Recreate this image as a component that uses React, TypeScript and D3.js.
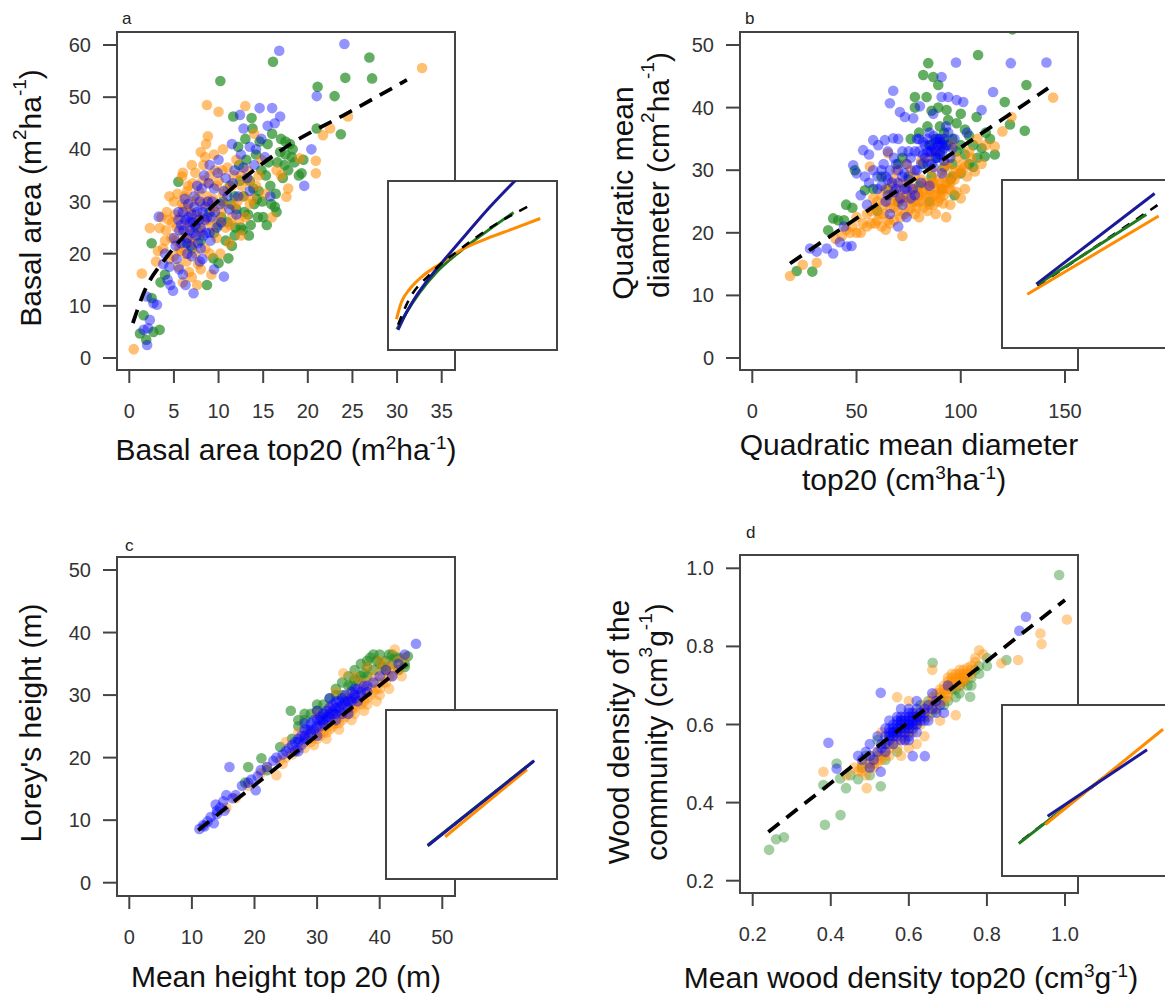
import React from "react";
import * as d3 from "d3";

type Pt = [number, number];
type Part = string | [string];

// ---- panel a: basal area ----
const aTicksX = [0, 5, 10, 15, 20, 25, 30, 35];
const aTicksY = [0, 10, 20, 30, 40, 50, 60];
const aGreen: Pt[] = [
  [1.2, 4.7], [1.9, 3.5], [2.7, 5.0], [3.4, 5.4], [1.6, 8.2], [2.5, 11.5], [3.5, 14.5], [2.5, 22.0], [4.0, 16],
  [5.5, 33.8], [6.5, 22], [7.5, 25], [8.7, 14.0], [9.4, 19.1], [10.0, 18.2], [11.1, 19.1], [9.0, 28], [10.0, 25.5],
  [10.5, 30], [10.2, 53.1], [11.0, 26], [11.3, 33], [11.65, 46.3], [11.8, 23.5], [12.0, 28.5], [12.3, 37], [12.5, 25],
  [12.8, 31], [13.0, 42], [13.3, 27.5], [13.5, 34], [13.7, 46], [13.8, 44], [14.0, 29.5], [14.2, 39], [14.5, 32],
  [14.8, 36], [15.0, 27], [15.4, 25.5], [15.5, 41], [15.8, 33], [16.1, 56.8], [16.3, 29], [16.5, 28], [16.6, 37.5],
  [17.0, 42], [17.2, 34.5], [17.5, 39], [17.8, 36], [18.0, 41], [18.3, 40], [18.5, 37.5], [19.0, 35], [19.3, 35.4],
  [19.5, 38], [21.0, 44], [21.1, 52.0], [23.0, 50.2], [23.7, 42.9], [24.2, 53.7], [26.9, 57.6], [27.2, 53.6],
  [12.7, 24.5], [11.5, 21.5], [14.3, 30.5],
  [9.5, 24], [10.3, 27], [10.8, 22.5], [11.4, 29.5], [11.9, 25], [12.4, 34], [12.9, 28], [13.4, 23.5], [13.9, 32.5],
  [14.4, 27], [14.9, 30], [15.3, 35], [15.9, 29.5], [16.4, 31.5], [16.9, 39.5], [17.4, 37], [18.2, 38.5], [13.1, 38],
  [14.6, 41.5], [12.2, 40.5], [16.0, 43], [17.5, 41.5], [11.8, 31], [15.6, 37.5], [8.0, 22.5], [7.0, 21], [13.6, 25.5],
];
const aOrange: Pt[] = [
  [0.5, 1.7], [1.4, 16.2], [2.3, 24.9], [3.4, 24.9], [3.0, 18.5], [3.8, 21], [4.1, 24.5], [4.5, 19], [4.2, 28],
  [4.8, 26], [5.0, 30], [5.2, 22.5], [5.5, 17.5], [5.9, 34.8], [5.7, 27], [6.0, 24], [6.2, 31], [6.3, 20], [6.5, 28.5],
  [6.6, 33], [6.8, 25], [7.0, 15.5], [7.0, 30], [7.2, 22], [7.4, 35.5], [7.5, 27.5], [7.7, 18], [7.8, 32], [8.0, 24.5],
  [8.2, 29.5], [8.3, 37], [8.5, 38.5], [8.5, 21], [8.6, 41], [8.7, 48.5], [8.8, 42.5], [8.9, 33.5], [9.0, 26.5],
  [9.2, 16], [9.4, 30.5], [9.6, 36], [9.8, 23], [10.0, 47.2], [10.0, 34], [10.3, 28], [10.5, 31.5], [10.8, 25],
  [11.0, 36.5], [11.2, 22], [11.5, 33], [11.8, 29], [12.0, 38], [12.3, 26.5], [12.5, 35], [12.8, 31], [13.0, 48.3],
  [13.2, 36], [13.5, 29.5], [14.0, 43], [14.2, 33], [14.8, 38], [15.2, 31.5], [16.0, 27], [16.5, 36], [17.0, 35],
  [17.6, 30.9], [17.8, 32.5], [19.1, 38.3], [20.9, 37.8], [20.9, 35.4], [21.7, 42.7], [22.5, 44], [24.5, 46.3],
  [32.8, 55.6], [5.3, 25], [6.1, 29], [6.9, 23], [7.3, 26], [8.1, 27], [8.8, 30], [9.3, 28.5], [5.8, 20.5],
  [6.4, 18.5], [10.2, 20], [11.5, 27], [4.0, 22.5], [3.2, 20.5], [7.6, 14], [6.7, 16.5],
  [4.4, 26.5], [4.7, 23], [5.1, 27.5], [5.4, 31.5], [5.6, 21], [5.9, 29.5], [6.2, 26], [6.5, 32], [6.7, 22.5],
  [6.9, 28], [7.1, 33.5], [7.4, 20], [7.6, 30.5], [7.9, 24], [8.2, 34], [8.4, 26], [8.7, 31], [9.0, 35], [9.3, 25],
  [9.5, 29], [9.8, 33], [10.1, 26.5], [10.4, 36], [10.7, 29.5], [11.0, 32.5], [11.3, 25.5], [11.7, 35], [12.1, 30],
  [12.6, 33], [13.0, 27], [13.4, 34], [13.8, 30.5], [14.5, 35], [6.0, 35.5], [7.0, 37], [8.0, 39.5], [9.5, 39],
  [10.5, 40], [5.0, 19.5], [6.0, 14.5], [8.0, 17], [9.0, 20], [3.6, 27], [4.5, 31], [12.5, 23.5],
];
const aBlue: Pt[] = [
  [1.6, 5.4], [2.1, 5.7], [2.3, 7.3], [1.95, 11.8], [2.7, 10.5], [3.1, 10.2], [2.0, 2.5], [3.3, 27.1], [4.6, 14],
  [4.9, 12.9], [4.5, 17.5], [4.0, 20], [5.0, 23], [5.3, 19], [5.5, 28], [5.8, 25.5], [6.0, 16], [6.2, 30.5], [6.4, 22],
  [6.6, 27], [6.8, 24.5], [7.0, 19.5], [7.1, 26], [7.2, 12.4], [7.3, 29], [7.5, 23.5], [7.6, 33], [7.8, 26.5], [8.0, 21],
  [8.2, 28], [8.4, 35], [8.6, 24], [8.8, 30], [9.0, 37], [9.2, 27], [9.5, 17], [9.5, 32.5], [9.8, 25], [10.0, 38],
  [10.2, 29.5], [10.6, 15.6], [10.8, 34.5], [11.0, 31], [11.5, 41], [11.8, 36], [12.0, 27.5], [12.4, 46.6], [12.5, 39],
  [12.8, 44], [13.2, 34.5], [13.5, 40.5], [14.0, 37], [14.6, 47.9], [14.8, 42], [15.2, 38.5], [15.5, 44.5], [16.0, 47.9],
  [16.3, 45], [16.9, 46.3], [15.8, 31], [16.8, 58.9], [19.6, 33.0], [20.4, 40.0], [21.0, 50.2], [24.1, 60.2],
  [6.5, 20], [5.6, 24.5], [7.9, 18.5], [8.5, 26.5], [9.1, 22.5],
  [5.2, 21.5], [5.5, 26.5], [5.8, 22], [6.0, 28], [6.1, 24.5], [6.3, 26.5], [6.5, 23], [6.6, 29.5], [6.8, 26],
  [6.9, 21.5], [7.0, 27.5], [7.2, 24], [7.3, 31], [7.4, 25.5], [7.6, 28], [7.7, 22], [7.9, 30], [8.0, 25], [8.1, 32.5],
  [8.3, 23.5], [8.5, 29], [8.7, 27], [8.9, 33.5], [9.0, 24], [9.3, 30], [9.6, 28], [9.9, 35.5], [10.3, 26], [10.6, 32],
  [11.2, 28.5], [11.6, 33.5], [12.2, 31], [12.8, 36.5], [13.5, 32], [4.3, 15], [5.6, 17], [6.3, 14], [8.2, 19],
  [3.8, 18], [14.2, 40],
];
const aFit: Pt[] = [[0.4, 6.7], [1.6, 12.4], [4.2, 19.4], [6.4, 23.9], [11.3, 32.2], [17.6, 40.5], [24.4, 46.9], [31.1, 53.3]];
// inset curves, in inset percent units
const aInBlue: Pt[] = [[5.9, 11.9], [10.9, 22.2], [16.8, 32.1], [24.8, 43.1], [34.7, 55.0], [46.5, 68.8], [60.4, 84.7], [78, 103]];
const aInGreen: Pt[] = [[5.3, 12.3], [10.9, 22.2], [18.8, 34.1], [28.7, 46.0], [42.6, 58.3], [58.4, 70.2], [74.3, 81.3]];
const aInOrange: Pt[] = [[5.0, 18.3], [7.9, 28.2], [12.9, 36.1], [20.8, 44.0], [30.7, 50.9], [42.6, 58.9], [58.4, 65.9], [74.3, 71.8], [90.1, 77.8]];
const aInFit: Pt[] = [[6, 15], [12, 29], [25, 45], [42.6, 59.5], [60, 72], [83, 85]];

// ---- panel b: quadratic mean diameter ----
const bTicksX = [0, 50, 100, 150];
const bTicksY = [0, 10, 20, 30, 40, 50];
const bGreen: Pt[] = [
  [21.3, 13.9], [28.8, 13.8], [36.4, 20.4], [38.8, 22.3], [41.2, 22.0], [45, 24.5], [49.2, 30.0], [54, 26.8], [60, 23.5],
  [65, 27], [70, 25], [72, 32], [75, 29], [78, 41.7], [78, 40], [80, 27.5], [82, 45.2], [82, 31], [83.6, 41.7],
  [84.4, 47.1], [85, 34], [86, 29], [86.8, 44.9], [88, 32], [89.2, 43.6], [89.2, 40], [90, 37], [91, 27], [92, 30.5],
  [93.2, 39.6], [94, 34], [95, 28.5], [96, 31], [98, 33], [100, 29.5], [102, 36.5], [104, 31], [106, 34], [107.6, 38.5],
  [108.3, 48.4], [110, 33.5], [111.5, 32.2], [114, 35], [116.3, 32.5], [121.1, 40.9], [123.6, 37.3], [124.8, 52.5],
  [130.7, 36.3], [131.5, 43.6], [85, 25], [97, 26],
  [88, 35], [90, 33], [92, 36], [94, 38], [96, 35], [98, 37.5], [100, 34], [102, 32.5], [104, 35.5], [106, 30.5],
  [108, 32], [112, 36], [100, 39], [96, 29], [92, 34.5], [84, 37], [86, 39.5], [80, 36], [76, 35], [70, 31], [62, 29],
  [58, 27], [48, 24], [44, 22],
];
const bOrange: Pt[] = [
  [18.1, 13.1], [24.2, 14.9], [30.9, 15.2], [40, 19], [45, 20.5], [48, 21], [50, 22.5], [52, 20], [55, 23], [56.4, 30.6],
  [57, 21.5], [59, 24], [60, 22], [62, 26], [63, 23], [65, 25], [65.2, 32.7], [66, 21.5], [67, 27.5], [68, 24], [69, 30],
  [70, 26], [71, 22.5], [72, 28], [73, 25], [74, 31], [75, 23.5], [76, 27], [77, 25], [78, 29], [79, 24], [80, 26.5],
  [81, 31.5], [82, 25], [83, 28], [84, 23.5], [85, 26], [86, 30], [86.8, 27.9], [87, 24.5], [88, 33], [89, 27],
  [90, 25.5], [91, 26.5], [91.6, 24.7], [92, 29], [93, 31], [94, 27], [95, 24.5], [96, 34], [97, 28.5], [98, 32],
  [100, 30], [102, 27], [104, 33], [106.8, 29.8], [108, 35], [110, 31], [112, 34], [116.3, 33.8], [120, 36.2],
  [124.3, 38.5], [144.3, 41.6], [72, 19.5], [64, 20.5], [58, 25.5], [80, 22.5], [88, 23], [93, 22.5], [100, 25.5],
  [55, 21], [57, 23.5], [59, 21.5], [60, 25], [61, 23], [62, 21], [63, 24.5], [64, 27], [65, 22], [66, 24], [67, 26],
  [68, 22], [69, 25], [70, 23.5], [71, 27], [72, 25.5], [73, 23], [74, 26], [75, 28], [76, 24], [77, 26.5], [78, 23],
  [79, 27], [80, 25], [81, 28.5], [82, 24], [83, 26], [84, 27.5], [85, 24.5], [86, 28], [87, 26], [88, 28.5], [89, 25],
  [90, 28], [91, 30], [92, 26], [93, 28], [94, 30.5], [95, 27], [96, 29], [98, 26.5], [99, 29.5], [101, 31], [103, 29],
  [105, 32], [50, 20], [53, 21.5], [47, 20], [43, 19.5], [68, 28.5], [76, 30], [84, 32],
  [70, 25], [75, 25.5], [80, 26], [85, 27], [90, 27], [95, 28], [78, 25], [82, 26.5], [88, 26], [92, 27.5], [98, 30],
  [102, 30.5],
];
const bBlue: Pt[] = [
  [27.7, 17.5], [30.9, 17.0], [35.7, 17.5], [38.8, 16.7], [42, 18.5], [45.3, 17.8], [47.6, 17.9], [44, 21], [48.4, 30.8],
  [50, 29.5], [53.2, 33.2], [52, 26], [55, 24.5], [56, 28], [58, 34.8], [60.4, 34], [60, 27], [62, 30], [63.6, 34.8],
  [64, 25], [65, 28.5], [66, 40.7], [67.6, 35.1], [67.6, 42.7], [68, 26.5], [69, 31], [70, 21], [70, 28], [70.8, 39.3],
  [72, 24.5], [73, 29.5], [73.2, 38.5], [74, 27], [75, 33], [76, 25.5], [77.2, 38.3], [78, 30], [79, 35], [80, 33],
  [80.4, 40.2], [81, 28], [82, 32.5], [83, 34], [84, 31], [85, 36], [86, 33], [86.8, 39], [87, 30.5], [88, 34.5],
  [89, 32], [90, 35], [90.8, 41.7], [90.8, 44.9], [91, 29.5], [92, 33.5], [93, 37], [94, 41.7], [95, 32], [97, 35],
  [97.7, 47.2], [98, 41.2], [101.2, 40.9], [103, 36], [110, 39.6], [115.5, 42.5], [124, 47.1], [141.1, 47.2],
  [74, 22.5], [66, 23], [78, 26], [85, 27.5],
  [60, 29], [62, 27.5], [63, 31], [64, 29], [65, 26], [66, 30], [67, 28], [68, 32], [69, 27], [70, 30], [71, 25.5],
  [72, 29], [72, 33], [73, 27], [74, 31], [75, 28.5], [76, 32], [77, 27], [78, 33], [79, 30], [80, 35], [81, 31],
  [82, 34.5], [83, 32], [84, 35], [85, 33], [86, 31], [87, 35.5], [88, 33], [89, 35], [90, 32.5], [91, 34], [92, 31.5],
  [93, 34], [94, 36], [96, 33.5], [70, 35], [65, 33], [58, 30], [56, 32.5], [54, 29],
  [86, 34], [88, 32], [89, 34], [90, 34.5], [91, 33], [87, 33.5], [84, 33], [92, 35],
];
const bFit: Pt[] = [[18.1, 15.1], [141.9, 43.1]];
const bInBlue: Pt[] = [[20.3, 38.0], [90.3, 92.0]];
const bInGreen: Pt[] = [[21.3, 38.0], [85.4, 79.4]];
const bInOrange: Pt[] = [[15.0, 32.0], [92.7, 78.6]];
const bInFit: Pt[] = [[21, 37], [92, 85]];

// ---- panel c: Lorey's height ----
const cTicksX = [0, 10, 20, 30, 40, 50];
const cTicksY = [0, 10, 20, 30, 40, 50];
const cGreen: Pt[] = [
  [18.5, 16], [19, 18.5], [21.1, 19.9], [22, 18], [24.1, 21.7], [25.8, 27.5], [26, 23], [27, 25], [28, 26], [29, 27],
  [30, 27.5], [31, 28.5], [32, 29.5], [33, 31], [34, 32], [35, 33], [35.5, 31.5], [36, 34], [36.5, 32.5], [37, 35],
  [37.5, 33.5], [38, 34.5], [38.5, 36], [39, 34], [39.5, 35.5], [40, 36.5], [40.5, 34.5], [41, 35.5], [41.5, 36.5],
  [42, 35], [42.5, 36], [43, 34], [44, 35], [44.5, 36.2], [34, 30], [31, 27],
  [36, 32.5], [37, 33], [38, 35.5], [39, 36.5], [40, 35], [41, 34], [42, 36.5], [43, 36], [44, 34.5], [38, 33],
  [35, 31.5], [33, 30], [30, 28.5], [28, 27], [27, 26],
];
const cOrange: Pt[] = [
  [15.5, 12], [17, 13.5], [19, 15.5], [21, 17.5], [23.5, 17.2], [24, 19.5], [25, 20], [26, 21], [27, 21.5], [28, 22.5],
  [28.5, 24], [29, 23], [30, 24.5], [30.5, 23.5], [31, 25.5], [31.5, 24], [32, 26], [32.5, 25], [33, 27], [33.5, 25.5],
  [34, 28], [34.2, 33.5], [34.5, 26.5], [35, 29], [35.5, 27.5], [36, 30], [36.5, 28.5], [37, 31], [37.5, 29], [38, 32],
  [38.5, 30], [39, 33], [39.5, 31], [40, 34], [40.5, 32], [41, 35], [41.5, 33], [42, 34.5], [42.4, 37.3], [43, 35.5],
  [44, 36], [30, 27], [33, 30.5], [36, 33], [38, 34.5], [27, 24], [25, 22.5], [22, 18.5],
  [28, 21.5], [29, 22.5], [30, 23], [31, 24], [32, 24.5], [33, 25.5], [34, 26], [35, 27], [36, 28], [37, 28.5],
  [38, 29.5], [39, 30.5], [40, 31], [41, 32], [42, 33], [43, 34], [29.5, 22], [31.5, 23], [33.5, 24.5], [35.5, 26],
  [37.5, 27.5], [39.5, 29], [41.5, 31], [43.5, 33], [32, 28], [35, 30], [37, 32], [40, 35.5], [26, 20.5], [24.5, 19],
  [30.5, 24], [31.5, 25], [32.5, 25.5], [33.5, 26.5], [34.5, 27], [35.5, 28], [36.5, 29], [37.5, 30], [38.5, 31],
  [39.5, 32], [40.5, 33], [41.5, 34], [36, 27], [38, 28.5], [40, 30],
];
const cBlue: Pt[] = [
  [11.2, 8.6], [11.8, 9.2], [12.5, 9.8], [13, 10.5], [13.5, 9.5], [14, 11], [14.5, 12], [15, 13], [15.2, 11.5], [16, 18.5],
  [16.5, 13.5], [18, 15.5], [19, 16], [20.2, 14.8], [20.5, 17], [22, 18.5], [23, 19.5], [24.5, 20.5], [25.5, 21.5],
  [26.5, 22.5], [27, 21], [27.5, 23.5], [28, 24.5], [28.5, 23], [29, 25.5], [29.5, 24.5], [30, 26], [30.5, 25], [31, 27],
  [31.5, 26], [32, 28], [32.5, 27], [33, 29], [33.5, 27.5], [34, 28.5], [34.5, 30], [35, 28], [35.5, 29.5], [36, 31],
  [36.5, 29], [37, 30.5], [38, 31.5], [39, 32], [40, 33], [41, 34], [42, 33], [43, 35], [44, 36.5], [45.8, 38.2],
  [33, 26], [35, 27], [30, 23.5],
  [26, 22], [27, 23], [28, 23.5], [29, 24], [30, 25], [31, 25.5], [32, 26.5], [33, 27], [34, 27], [35, 29], [36, 29.5],
  [37, 30], [38, 30.5], [26.5, 21], [27.5, 22], [28.5, 24.5], [29.5, 26], [30.5, 26.5], [31.5, 27.5], [32.5, 28.5],
  [33.5, 29], [34.5, 28.5], [35.5, 30.5], [36.5, 31], [37.5, 31.5], [28, 25.5], [30, 27.5], [32, 29.5], [25, 21],
  [23.5, 20], [21, 18], [19.5, 16.5], [17, 14], [14, 11.5], [12, 9], [13.8, 12.5], [15.5, 14],
  [30.5, 26], [31.5, 26.5], [32.5, 27.5], [33.5, 28], [34.5, 29], [35.5, 29], [33, 28], [34, 29.5], [32, 27], [31, 26],
  [29, 24.5], [28, 23], [27, 22.5], [36, 30],
];
const cFit: Pt[] = [[11.0, 8.4], [45.1, 35.6]];
const cInBlue: Pt[] = [[24.4, 19.7], [86.7, 70.0]];
const cInGreen: Pt[] = [[24.4, 20.0], [86.0, 69.5]];
const cInOrange: Pt[] = [[34.6, 25.0], [82.4, 64.8]];
const cInFit: Pt[] = [[24.4, 19.8], [86.5, 69.8]];

// ---- panel d: wood density ----
const dTicksX = [0.2, 0.4, 0.6, 0.8, 1.0];
const dTicksY = [0.2, 0.4, 0.6, 0.8, 1.0];
const dGreen: Pt[] = [
  [0.242, 0.279], [0.26, 0.306], [0.28, 0.311], [0.385, 0.343], [0.425, 0.368], [0.381, 0.445], [0.415, 0.50],
  [0.424, 0.462], [0.439, 0.437], [0.47, 0.46], [0.49, 0.52], [0.50, 0.47], [0.52, 0.56], [0.528, 0.442], [0.54, 0.51],
  [0.55, 0.57], [0.57, 0.53], [0.58, 0.61], [0.60, 0.58], [0.62, 0.60], [0.64, 0.62], [0.65, 0.66], [0.661, 0.758],
  [0.67, 0.64], [0.68, 0.67], [0.70, 0.66], [0.71, 0.69], [0.72, 0.67], [0.73, 0.70], [0.74, 0.71], [0.757, 0.671],
  [0.76, 0.72], [0.77, 0.74], [0.78, 0.75], [0.80, 0.77], [0.85, 0.765], [0.985, 0.983], [0.63, 0.65],
  [0.5, 0.5], [0.52, 0.52], [0.55, 0.55], [0.57, 0.58], [0.6, 0.6], [0.66, 0.63], [0.69, 0.65], [0.72, 0.69],
  [0.75, 0.7], [0.78, 0.73], [0.8, 0.75], [0.76, 0.7], [0.73, 0.68], [0.62, 0.62], [0.48, 0.49], [0.45, 0.47],
];
const dOrange: Pt[] = [
  [0.381, 0.479], [0.44, 0.47], [0.46, 0.49], [0.48, 0.50], [0.492, 0.437], [0.50, 0.52], [0.51, 0.49], [0.52, 0.53],
  [0.53, 0.51], [0.54, 0.55], [0.55, 0.52], [0.56, 0.57], [0.57, 0.67], [0.57, 0.54], [0.58, 0.59], [0.59, 0.56],
  [0.60, 0.61], [0.61, 0.58], [0.62, 0.63], [0.62, 0.55], [0.63, 0.60], [0.64, 0.65], [0.65, 0.62], [0.66, 0.67],
  [0.67, 0.64], [0.68, 0.69], [0.69, 0.66], [0.70, 0.71], [0.70, 0.68], [0.71, 0.73], [0.72, 0.70], [0.72, 0.624],
  [0.73, 0.72], [0.74, 0.74], [0.74, 0.71], [0.75, 0.73], [0.76, 0.75], [0.77, 0.77], [0.78, 0.79], [0.79, 0.78],
  [0.837, 0.757], [0.88, 0.765], [0.937, 0.833], [0.94, 0.806], [1.005, 0.869], [0.66, 0.74], [0.6, 0.66], [0.53, 0.58],
  [0.68, 0.61], [0.64, 0.57],
  [0.47, 0.48], [0.49, 0.47], [0.5, 0.5], [0.52, 0.51], [0.54, 0.53], [0.56, 0.55], [0.58, 0.57], [0.6, 0.58],
  [0.62, 0.61], [0.64, 0.63], [0.66, 0.65], [0.68, 0.66], [0.7, 0.69], [0.72, 0.71], [0.73, 0.73], [0.74, 0.72],
  [0.75, 0.745], [0.76, 0.73], [0.71, 0.71], [0.69, 0.7], [0.67, 0.68], [0.65, 0.64], [0.63, 0.62], [0.61, 0.6],
  [0.59, 0.58], [0.57, 0.56], [0.55, 0.54], [0.53, 0.52], [0.51, 0.5], [0.48, 0.49], [0.7, 0.72], [0.73, 0.7],
  [0.77, 0.76], [0.6, 0.54], [0.58, 0.52],
  [0.68, 0.68], [0.69, 0.69], [0.7, 0.7], [0.71, 0.7], [0.72, 0.72], [0.73, 0.71], [0.74, 0.73], [0.75, 0.72],
  [0.72, 0.73], [0.7, 0.67], [0.69, 0.68], [0.71, 0.72], [0.73, 0.74], [0.67, 0.66], [0.66, 0.66], [0.76, 0.74],
  [0.5, 0.49], [0.52, 0.5], [0.54, 0.52], [0.48, 0.48],
];
const dBlue: Pt[] = [
  [0.394, 0.553], [0.415, 0.487], [0.47, 0.52], [0.49, 0.53], [0.50, 0.55], [0.51, 0.51], [0.52, 0.57], [0.528, 0.681],
  [0.528, 0.479], [0.53, 0.55], [0.54, 0.59], [0.55, 0.57], [0.55, 0.61], [0.56, 0.58], [0.56, 0.55], [0.57, 0.60],
  [0.57, 0.62], [0.58, 0.58], [0.58, 0.64], [0.59, 0.60], [0.59, 0.56], [0.60, 0.62], [0.60, 0.59], [0.61, 0.519],
  [0.61, 0.63], [0.62, 0.60], [0.62, 0.66], [0.63, 0.62], [0.64, 0.64], [0.641, 0.519], [0.65, 0.61], [0.66, 0.68],
  [0.67, 0.63], [0.68, 0.65], [0.69, 0.63], [0.70, 0.70], [0.883, 0.840], [0.900, 0.876], [0.54, 0.53], [0.6, 0.57],
  [0.55, 0.59], [0.56, 0.6], [0.57, 0.58], [0.58, 0.6], [0.59, 0.61], [0.6, 0.6], [0.61, 0.61], [0.62, 0.62],
  [0.6, 0.63], [0.58, 0.62], [0.56, 0.57], [0.57, 0.59], [0.59, 0.59], [0.61, 0.6], [0.63, 0.63], [0.55, 0.56],
  [0.54, 0.57], [0.53, 0.54], [0.52, 0.53], [0.5, 0.52], [0.64, 0.61], [0.65, 0.65], [0.66, 0.64], [0.67, 0.66],
  [0.62, 0.58], [0.6, 0.56], [0.5, 0.49], [0.48, 0.51],
  [0.56, 0.59], [0.57, 0.61], [0.58, 0.59], [0.59, 0.62], [0.6, 0.61], [0.61, 0.62], [0.62, 0.61], [0.58, 0.61],
  [0.57, 0.57], [0.59, 0.58], [0.6, 0.6], [0.61, 0.59], [0.56, 0.58], [0.55, 0.58], [0.62, 0.64], [0.63, 0.61],
  [0.6, 0.64], [0.58, 0.56], [0.54, 0.55], [0.64, 0.63],
];
const dFit: Pt[] = [[0.24, 0.325], [1.0, 0.919]];
const dInBlue: Pt[] = [[27.0, 35.0], [85.8, 73.8]];
const dInGreen: Pt[] = [[9.9, 19.0], [25.6, 31.1], [60, 57.5]];
const dInOrange: Pt[] = [[25.6, 30.1], [95.3, 85.8]];
const dInFit: Pt[] = [[12, 21], [60, 57]];

const FONT = "'Liberation Sans', Arial, Helvetica, sans-serif";
const GREEN = "34,139,34";
const ORANGE = "255,140,0";
const BLUE = "0,0,255";

function Rich({ parts, size }: { parts: Part[]; size: number }) {
  const sup = Math.round(size * 0.62);
  const rise = Math.round(size * 0.38);
  let up = false;
  return (
    <>
      {parts.map((p, i) => {
        if (typeof p === "string") {
          const el = <tspan key={i} dy={up ? rise : 0} fontSize={size}>{p}</tspan>;
          up = false;
          return el;
        }
        const el = <tspan key={i} dy={up ? 0 : -rise} fontSize={sup}>{p[0]}</tspan>;
        up = true;
        return el;
      })}
    </>
  );
}

const panels = [
  {
    id: "a", letter: [122, 18], box: [117, 32, 455, 370], inset: [388, 181, 557, 350],
    xd: [0, 35], xr: [129.3, 441.7], yd: [0, 60], yr: [358, 45],
    xTicks: aTicksX, yTicks: aTicksY, fmt: d3.format("d"),
    green: aGreen, orange: aOrange, blue: aBlue, alpha: [0.7, 0.55, 0.42],
    fit: aFit, curved: true, fitOnTop: true,
    inB: aInBlue, inG: aInGreen, inO: aInOrange, inF: aInFit,
    xTitle: [{ parts: ["Basal area top20 (m", ["2"], "ha", ["-1"], ")"] as Part[], x: 286, y: 460 }],
    yTitle: [{ parts: ["Basal area (m", ["2"], "ha", ["-1"], ")"] as Part[], x: 30, y: 198 }],
  },
  {
    id: "b", letter: [745, 18], box: [740, 32, 1078, 370], inset: [1002, 180, 1171, 348],
    xd: [0, 150], xr: [752.3, 1065], yd: [0, 50], yr: [358, 45],
    xTicks: bTicksX, yTicks: bTicksY, fmt: d3.format("d"),
    green: bGreen, orange: bOrange, blue: bBlue, alpha: [0.7, 0.55, 0.42],
    fit: bFit, curved: false, fitOnTop: false,
    inB: bInBlue, inG: bInGreen, inO: bInOrange, inF: bInFit,
    xTitle: [
      { parts: ["Quadratic mean diameter"] as Part[], x: 909, y: 455 },
      { parts: ["top20 (cm", ["3"], "ha", ["-1"], ")"] as Part[], x: 904, y: 490 },
    ],
    yTitle: [
      { parts: ["Quadratic mean"] as Part[], x: 622, y: 193 },
      { parts: ["diameter (cm", ["2"], "ha", ["-1"], ")"] as Part[], x: 658, y: 175 },
    ],
  },
  {
    id: "c", letter: [125, 545], box: [117, 557, 455, 896], inset: [386, 710, 557, 879],
    xd: [0, 50], xr: [129.3, 442.3], yd: [0, 50], yr: [882.7, 570],
    xTicks: cTicksX, yTicks: cTicksY, fmt: d3.format("d"),
    green: cGreen, orange: cOrange, blue: cBlue, alpha: [0.6, 0.42, 0.42],
    fit: cFit, curved: false, fitOnTop: false,
    inB: cInBlue, inG: cInGreen, inO: cInOrange, inF: cInFit,
    xTitle: [{ parts: ["Mean height top 20 (m)"] as Part[], x: 286, y: 987 }],
    yTitle: [{ parts: ["Lorey's height (m)"] as Part[], x: 30, y: 723 }],
  },
  {
    id: "d", letter: [746, 532], box: [740, 555, 1078, 893], inset: [1002, 705, 1171, 876],
    xd: [0.2, 1.0], xr: [752.7, 1065], yd: [0.2, 1.0], yr: [880.7, 568.3],
    xTicks: dTicksX, yTicks: dTicksY, fmt: d3.format(".1f"),
    green: dGreen, orange: dOrange, blue: dBlue, alpha: [0.42, 0.42, 0.4],
    fit: dFit, curved: false, fitOnTop: false,
    inB: dInBlue, inG: dInGreen, inO: dInOrange, inF: dInFit,
    xTitle: [{ parts: ["Mean wood density top20 (cm", ["3"], "g", ["-1"], ")"] as Part[], x: 911, y: 988 }],
    yTitle: [
      { parts: ["Wood density of the"] as Part[], x: 618, y: 732 },
      { parts: ["community (cm", ["3"], "g", ["-1"], ")"] as Part[], x: 656, y: 732 },
    ],
  },
];

type Cfg = (typeof panels)[number];

function Panel({ p }: { p: Cfg }) {
  const x = d3.scaleLinear().domain(p.xd).range(p.xr);
  const y = d3.scaleLinear().domain(p.yd).range(p.yr);
  const [bx0, by0, bx1, by1] = p.box;
  const [ix0, iy0, ix1, iy1] = p.inset;
  const ix = d3.scaleLinear().domain([0, 100]).range([ix0, ix1]);
  const iy = d3.scaleLinear().domain([0, 100]).range([iy1, iy0]);
  const curve = p.curved ? d3.curveMonotoneX : d3.curveLinear;
  const line = d3.line<Pt>().x((d) => x(d[0])).y((d) => y(d[1])).curve(curve);
  const iline = d3.line<Pt>().x((d) => ix(d[0])).y((d) => iy(d[1])).curve(curve);
  const dots = (data: Pt[], rgb: string, a: number, k: string) =>
    data.map((d, i) => (
      <circle key={k + i} cx={x(d[0])} cy={y(d[1])} r={5.3} fill={`rgba(${rgb},${a})`} />
    ));
  const fitPath = (
    <path d={line(p.fit) || ""} fill="none" stroke="#000" strokeWidth={3.8} strokeDasharray="14,9" />
  );
  const inFit = (
    <path d={iline(p.inF) || ""} fill="none" stroke="#000" strokeWidth={2.6} strokeDasharray="9,8" />
  );
  return (
    <g>
      <defs>
        <clipPath id={"clip-" + p.id}>
          <rect x={bx0} y={by0} width={bx1 - bx0} height={by1 - by0} />
        </clipPath>
        <clipPath id={"iclip-" + p.id}>
          <rect x={ix0} y={iy0} width={ix1 - ix0} height={iy1 - iy0} />
        </clipPath>
      </defs>
      <text x={p.letter[0]} y={p.letter[1]} fontSize={17} fill="#222" dominantBaseline="central">
        {p.id}
      </text>
      <g clipPath={`url(#clip-${p.id})`}>
        {dots(p.green, GREEN, p.alpha[0], "g")}
        {dots(p.orange, ORANGE, p.alpha[1], "o")}
        {dots(p.blue, BLUE, p.alpha[2], "b")}
        {fitPath}
      </g>
      <rect x={bx0} y={by0} width={bx1 - bx0} height={by1 - by0} fill="none" stroke="#444" strokeWidth={2} />
      {p.xTicks.map((t) => (
        <g key={"xt" + t}>
          <line x1={x(t)} x2={x(t)} y1={by1 + 1} y2={by1 + 13} stroke="#444" strokeWidth={2} />
          <text x={x(t)} y={by1 + 41} textAnchor="middle" dominantBaseline="central" fontSize={20} fill="#333">
            {p.fmt(t)}
          </text>
        </g>
      ))}
      {p.yTicks.map((t) => (
        <g key={"yt" + t}>
          <line x1={bx0 - 14} x2={bx0} y1={y(t)} y2={y(t)} stroke="#444" strokeWidth={2} />
          <text x={bx0 - 26} y={y(t)} textAnchor="end" dominantBaseline="central" fontSize={20} fill="#333">
            {p.fmt(t)}
          </text>
        </g>
      ))}
      {p.xTitle.map((t, i) => (
        <text key={"xl" + i} x={t.x} y={t.y} textAnchor="middle" fill="#111">
          <Rich parts={t.parts} size={30} />
        </text>
      ))}
      {p.yTitle.map((t, i) => (
        <text
          key={"yl" + i}
          transform={`translate(${t.x},${t.y}) rotate(-90)`}
          textAnchor="middle"
          dominantBaseline="central"
          fill="#111"
        >
          <Rich parts={t.parts} size={30} />
        </text>
      ))}
      <rect x={ix0} y={iy0} width={ix1 - ix0} height={iy1 - iy0} fill="#fff" stroke="#444" strokeWidth={2} />
      <g clipPath={`url(#iclip-${p.id})`}>
        {!p.fitOnTop && inFit}
        <path d={iline(p.inG) || ""} fill="none" stroke="#1e7b1e" strokeWidth={3} />
        <path d={iline(p.inO) || ""} fill="none" stroke="#ff8c00" strokeWidth={3} />
        <path d={iline(p.inB) || ""} fill="none" stroke="#1a1a96" strokeWidth={3} />
        {p.fitOnTop && inFit}
      </g>
    </g>
  );
}

export default function App() {
  return (
    <svg
      width={1165}
      height={996}
      viewBox="0 0 1165 996"
      style={{ position: "absolute", left: 0, top: 0, background: "#fff" }}
      fontFamily={FONT}
    >
      <rect width={1165} height={996} fill="#fff" />
      {panels.map((p) => (
        <Panel key={p.id} p={p} />
      ))}
    </svg>
  );
}
